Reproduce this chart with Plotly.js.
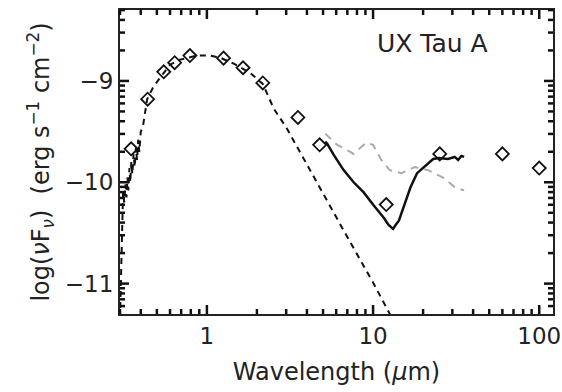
<!DOCTYPE html>
<html>
<head>
<meta charset="utf-8">
<script src="https://cdn.plot.ly/plotly-3.0.1.min.js"></script>
<style>html,body{margin:0;padding:0;background:#fff;}#chart{width:562px;height:392px;}</style>
</head>
<body>
<div id="chart"></div>
<script>
// Photometry (diamonds): wavelength in micron, log(nu F_nu)
const photLam = [0.35, 0.44, 0.55, 0.64, 0.79, 1.26, 1.65, 2.17, 3.53, 4.77, 12.0, 25.2, 60.0, 100.0];
const photLog = [-9.67, -9.18, -8.91, -8.82, -8.75, -8.775, -8.87, -9.02, -9.36, -9.63, -10.22, -9.72, -9.72, -9.86];

// Stellar photosphere (black dashed)
const starLam = [0.300, 0.303, 0.306, 0.309, 0.313, 0.318, 0.324, 0.328, 0.333, 0.337, 0.342, 0.346, 0.351, 0.356,
                 0.362, 0.368, 0.374, 0.380, 0.386, 0.392, 0.400, 0.413, 0.437, 0.477, 0.523, 0.60, 0.69, 0.87,
                 1.05, 1.2, 1.45, 1.82, 2.17, 2.52, 3.03, 4.0, 5.0, 7.0, 10.0, 13.0];
const starLog = [-11.35, -11.0, -10.6, -10.25, -10.1, -10.20, -10.02, -10.15, -9.95, -10.08, -9.86, -10.00, -9.80, -9.92,
                 -9.72, -9.85, -9.66, -9.78, -9.58, -9.70, -9.50, -9.44, -9.18, -9.056, -8.97, -8.84, -8.79, -8.75,
                 -8.75, -8.77, -8.83, -8.92, -9.03, -9.27, -9.47, -9.82, -10.11, -10.54, -10.99, -11.34];

// IRS spectrum (black solid)
const irsLam = [5.15, 5.3, 5.8, 6.65, 7.64, 8.78, 10.1, 11.07, 11.6, 12.4, 12.8, 13.2, 13.7, 14.3, 15.3, 16.8, 18.4,
                21.1, 23.0, 25.0, 28.2, 31.0, 32.5, 34.0, 35.3];
const irsLog = [-9.60, -9.62, -9.73, -9.88, -10.00, -10.10, -10.23, -10.31, -10.35, -10.42, -10.44, -10.46, -10.42,
                -10.38, -10.24, -10.05, -9.91, -9.82, -9.77, -9.76, -9.77, -9.75, -9.78, -9.74, -9.75];

// Comparison spectrum (grey dashed)
const cmpLam = [5.15, 6.07, 7.3, 7.6, 9.1, 10.0, 11.2, 12.6, 14.8, 17.8, 21.4, 26.8, 31.0, 35.3];
const cmpLog = [-9.52, -9.63, -9.70, -9.72, -9.61, -9.63, -9.78, -9.88, -9.91, -9.85, -9.88, -9.96, -10.05, -10.08];

const xTickVals = [1, 10, 100];
const xTickText = ['1', '10', '100'];
const yTickVals = [-9, -10, -11];
const yTickText = ['\u22129', '\u221210', '\u221211'];

// minor tick positions (log-spaced within each decade)
const xMinor = [];
for (let e = -1; e <= 2; e++) for (let k = 2; k <= 9; k++) xMinor.push(k * Math.pow(10, e));
const yMinor = [];
for (let e = -12; e <= -9; e++) for (let k = 2; k <= 9; k++) yMinor.push(e + Math.log10(k));

const font = 'DejaVu Sans, sans-serif';
const ink = '#222';
const tickInk = '#111';
const xRange = [Math.log10(0.3), Math.log10(121)];
const yRange = [-11.3, -8.3];
const W = 562, H = 392, M = {l: 120, r: 9, t: 10, b: 78};
const plotW = W - M.l - M.r, plotH = H - M.t - M.b;

// inside tick marks on all four sides, built from the tick value arrays
const fx = v => (Math.log10(v) - xRange[0]) / (xRange[1] - xRange[0]);
const fy = v => (v - yRange[0]) / (yRange[1] - yRange[0]);
const shapes = [];
function addX(vals, len) {
  vals.forEach(v => {
    const f = fx(v);
    if (f <= 0 || f >= 1) return;
    const d = len / plotH;
    shapes.push({type: 'line', layer: 'above', xref: 'paper', yref: 'paper', x0: f, x1: f, y0: 0, y1: d, line: {color: tickInk, width: 2.5}});
    shapes.push({type: 'line', layer: 'above', xref: 'paper', yref: 'paper', x0: f, x1: f, y0: 1, y1: 1 - d, line: {color: tickInk, width: 2.5}});
  });
}
function addY(vals, len) {
  vals.forEach(v => {
    const f = fy(v);
    if (f <= 0 || f >= 1) return;
    const d = len / plotW;
    shapes.push({type: 'line', layer: 'above', xref: 'paper', yref: 'paper', y0: f, y1: f, x0: 0, x1: d, line: {color: tickInk, width: 2.5}});
    shapes.push({type: 'line', layer: 'above', xref: 'paper', yref: 'paper', y0: f, y1: f, x0: 1, x1: 1 - d, line: {color: tickInk, width: 2.5}});
  });
}
addX(xTickVals, 9); addX(xMinor, 5);
addY(yTickVals, 9); addY(yMinor, 5);

const traces = [
  {x: starLam, y: starLog, mode: 'lines', line: {color: '#111', width: 2, dash: '6px,5px'}},
  {x: cmpLam, y: cmpLog, mode: 'lines', line: {color: '#aaaaaa', width: 2, dash: '8px,6px'}},
  {x: irsLam, y: irsLog, mode: 'lines', line: {color: '#111', width: 2.5}},
  {x: photLam, y: photLog, mode: 'markers', marker: {symbol: 'diamond-open', size: 10, color: '#111', line: {width: 1.8, color: '#111'}}}
];

const layout = {
  width: W, height: H,
  margin: M,
  showlegend: false,
  xaxis: {
    type: 'log', range: xRange,
    tickmode: 'array', tickvals: xTickVals, ticktext: xTickText,
    ticks: '', showline: true, linecolor: ink, linewidth: 2, mirror: true,
    showgrid: false, zeroline: false,
    tickfont: {size: 23, family: font, color: ink},
    title: {text: 'Wavelength (<i>\u03bc</i>m)', font: {size: 24, family: font, color: ink}, standoff: 16}
  },
  yaxis: {
    range: yRange,
    tickmode: 'array', tickvals: yTickVals, ticktext: yTickText,
    ticks: '', showline: true, linecolor: ink, linewidth: 2, mirror: true,
    showgrid: false, zeroline: false,
    tickfont: {size: 23, family: font, color: ink},
    title: {text: 'log(<i>\u03bd</i>F<sub><i>\u03bd</i></sub>)  (erg s<sup>\u22121</sup> cm<sup>\u22122</sup>)', font: {size: 24, family: font, color: ink}, standoff: 8}
  },
  shapes: shapes,
  annotations: [{
    xref: 'paper', yref: 'paper', x: 0.722, y: 0.89, xanchor: 'center', yanchor: 'middle',
    text: 'UX Tau A', showarrow: false, font: {size: 25, family: font, color: ink}
  }]
};

Plotly.newPlot('chart', traces, layout, {displayModeBar: false});
</script>
</body>
</html>
